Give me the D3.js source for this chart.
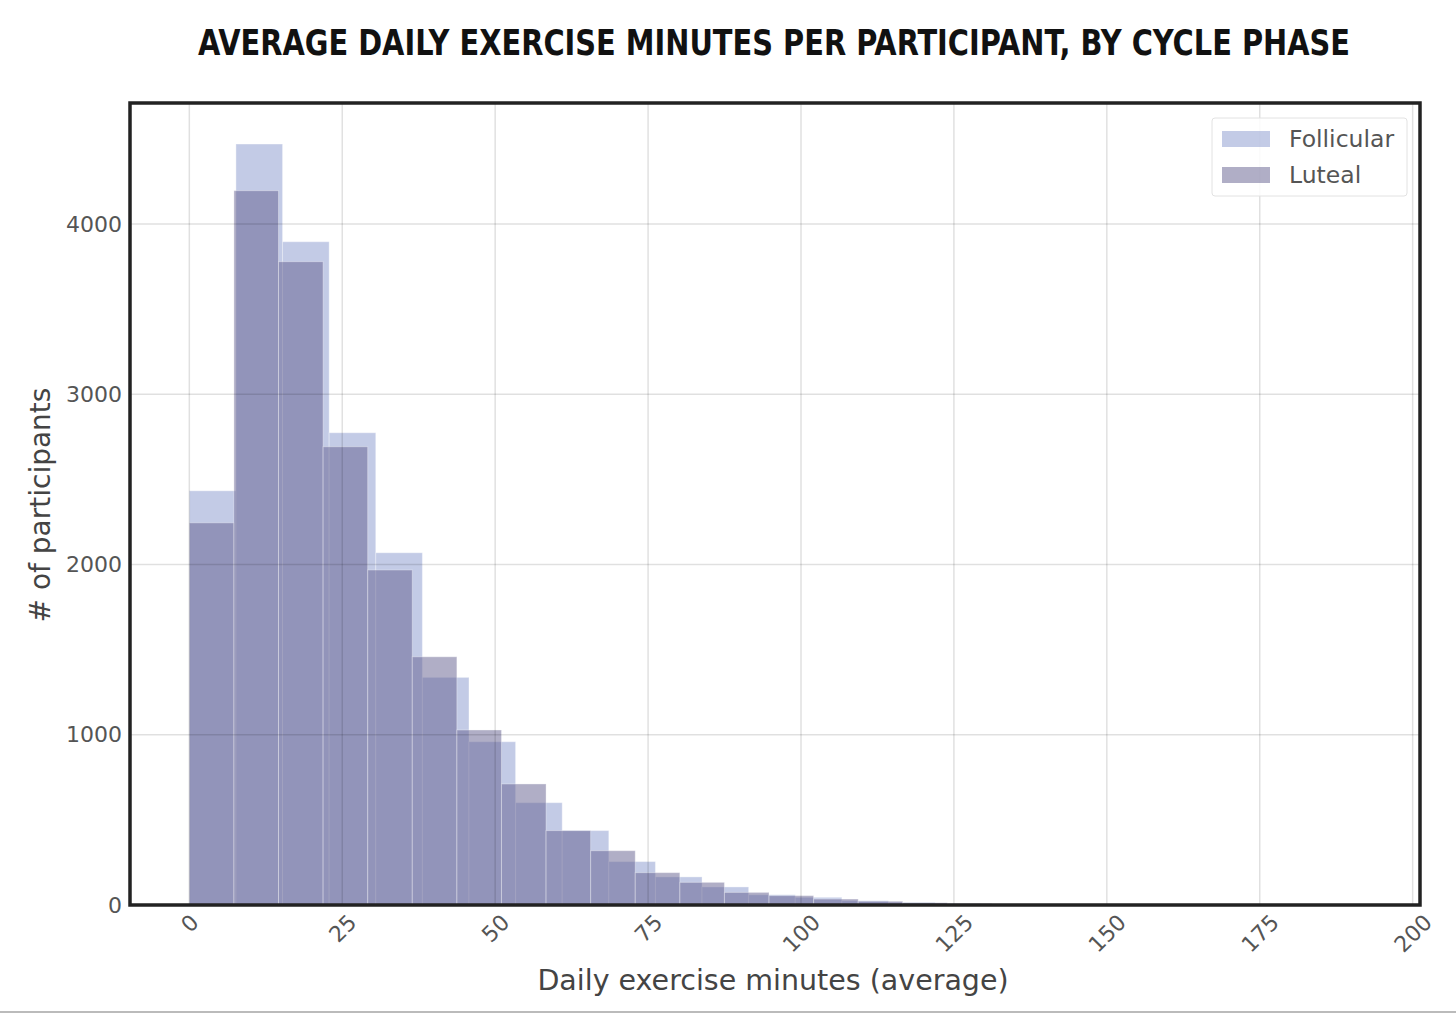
<!DOCTYPE html>
<html>
<head>
<meta charset="utf-8">
<script src="https://cdn.jsdelivr.net/npm/d3@7"></script>
<style>
  body { margin: 0; background: #fff; }
  svg { display: block; }
</style>
</head>
<body>
<script>
const width = 1456;
const height = 1014;

// histogram counts, one value per bin
const follicularBinWidth = 7.62;
const lutealBinWidth = 7.29;
const follicularCounts = [2433, 4470, 3896, 2774, 2069, 1337, 959, 601, 437, 255,
  165, 106, 60, 45, 25, 15, 9, 6, 4, 3, 2, 1];
const lutealCounts = [2245, 4196, 3779, 2692, 1968, 1458, 1028, 711, 437, 319,
  190, 133, 74, 55, 35, 22, 13, 8, 5, 3, 2, 1];

const xTicks = [0, 25, 50, 75, 100, 125, 150, 175, 200];
const yTicks = [0, 1000, 2000, 3000, 4000];
const seriesNames = ["Follicular", "Luteal"];

let margin = { top: 103, right: 36, bottom: 109, left: 130 };

let svg = d3
  .select("body")
  .append("svg")
  .attr("width", width)
  .attr("height", height);

let xScale = d3
  .scaleLinear()
  .domain([-9.7, 201.2])
  .range([margin.left, width - margin.right]);

let yScale = d3
  .scaleLinear()
  .domain([0, 4711])
  .range([height - margin.bottom, margin.top]);

let colors = { Follicular: "#8797cd", Luteal: "#615d8d" };

function toBins(counts, binWidth) {
  return counts.map((c, i) => ({ x0: i * binWidth, x1: (i + 1) * binWidth, count: c }));
}

let series = [
  { name: "Follicular", bins: toBins(follicularCounts, follicularBinWidth) },
  { name: "Luteal", bins: toBins(lutealCounts, lutealBinWidth) },
];

svg
  .append("text")
  .text("AVERAGE DAILY EXERCISE MINUTES PER PARTICIPANT, BY CYCLE PHASE")
  .attr("x", 198)
  .attr("y", 55)
  .attr("textLength", 1152)
  .attr("lengthAdjust", "spacingAndGlyphs")
  .style("font-family", "'DejaVu Sans Condensed', 'DejaVu Sans'")
  .style("font-weight", "bold")
  .style("font-size", "35px")
  .style("fill", "#111");

// bars
series.forEach((s) => {
  svg
    .append("g")
    .attr("class", "bars")
    .selectAll("rect")
    .data(s.bins)
    .join("rect")
    .attr("x", (d) => xScale(d.x0))
    .attr("y", (d) => yScale(d.count))
    .attr("width", (d) => xScale(d.x1) - xScale(d.x0))
    .attr("height", (d) => yScale(0) - yScale(d.count))
    .attr("fill", colors[s.name])
    .attr("fill-opacity", 0.5)
    .attr("stroke", "#ffffff")
    .attr("stroke-opacity", 0.35)
    .attr("stroke-width", 1);
});

// grid over the bars, faint like the original
let grid = svg.append("g").attr("class", "grid");
grid
  .selectAll(".vgrid")
  .data(xTicks)
  .join("line")
  .attr("class", "vgrid")
  .attr("x1", (d) => xScale(d))
  .attr("x2", (d) => xScale(d))
  .attr("y1", margin.top)
  .attr("y2", height - margin.bottom)
  .attr("stroke", "#000")
  .attr("stroke-opacity", 0.12)
  .attr("stroke-width", 1.5);
grid
  .selectAll(".hgrid")
  .data(yTicks)
  .join("line")
  .attr("class", "hgrid")
  .attr("x1", margin.left)
  .attr("x2", width - margin.right)
  .attr("y1", (d) => yScale(d))
  .attr("y2", (d) => yScale(d))
  .attr("stroke", "#000")
  .attr("stroke-opacity", 0.12)
  .attr("stroke-width", 1.5);

// frame
svg
  .append("rect")
  .attr("x", margin.left)
  .attr("y", margin.top)
  .attr("width", width - margin.left - margin.right)
  .attr("height", height - margin.top - margin.bottom)
  .attr("fill", "none")
  .attr("stroke", "#222")
  .attr("stroke-width", 3.5);

let leftAxis = d3
  .axisLeft(yScale)
  .tickValues(yTicks)
  .tickSize(0)
  .tickPadding(8)
  .tickFormat(d3.format("d"));
let leftContainer = svg
  .append("g")
  .attr("transform", `translate(${margin.left}, 0)`)
  .call(leftAxis);
leftContainer.select(".domain").remove();
leftContainer
  .selectAll("text")
  .style("font-family", "'DejaVu Sans'")
  .style("font-size", "22px")
  .style("fill", "#555");

let bottomAxis = d3.axisBottom(xScale).tickValues(xTicks).tickSize(0).tickFormat(d3.format("d"));
let bottomContainer = svg
  .append("g")
  .attr("transform", `translate(0, ${height - margin.bottom})`)
  .call(bottomAxis);
bottomContainer.select(".domain").remove();
bottomContainer
  .selectAll("text")
  .style("font-family", "'DejaVu Sans'")
  .style("font-size", "22px")
  .style("fill", "#555")
  .attr("text-anchor", "middle")
  .attr("dy", null)
  .attr("dominant-baseline", "central")
  .attr("y", 0)
  .attr("transform", function () {
    let len = this.getComputedTextLength();
    let h = (len + 16) * Math.SQRT1_2;
    return `translate(0, ${8 + h / 2}) rotate(-45)`;
  });

svg
  .append("text")
  .text("Daily exercise minutes (average)")
  .attr("x", 773)
  .attr("y", 990)
  .attr("text-anchor", "middle")
  .style("font-family", "'DejaVu Sans'")
  .style("font-size", "28.5px")
  .style("fill", "#444");

svg
  .append("text")
  .text("# of participants")
  .attr("text-anchor", "middle")
  .attr("transform", `translate(50, 505) rotate(270)`)
  .style("font-family", "'DejaVu Sans'")
  .style("font-size", "28px")
  .style("fill", "#444");

// legend
let legend = svg.append("g").attr("transform", "translate(1212, 118)");
legend
  .append("rect")
  .attr("width", 195)
  .attr("height", 78)
  .attr("rx", 3)
  .attr("fill", "#fff")
  .attr("fill-opacity", 0.85)
  .attr("stroke", "#e2e2e2");
let items = legend
  .selectAll(".item")
  .data(seriesNames)
  .join("g")
  .attr("class", "item")
  .attr("transform", (d, i) => `translate(10, ${13 + i * 36})`);
items
  .append("rect")
  .attr("width", 48)
  .attr("height", 16)
  .attr("fill", (d) => colors[d])
  .attr("fill-opacity", 0.5);
items
  .append("text")
  .text((d) => d)
  .attr("x", 67)
  .attr("y", 16)
  .style("font-family", "'DejaVu Sans'")
  .style("font-size", "23.5px")
  .style("fill", "#555");

// thin grey line at the bottom of the picture
svg
  .append("line")
  .attr("x1", 0)
  .attr("x2", width)
  .attr("y1", 1012)
  .attr("y2", 1012)
  .attr("stroke", "#bbb")
  .attr("stroke-width", 2);
</script>
</body>
</html>
